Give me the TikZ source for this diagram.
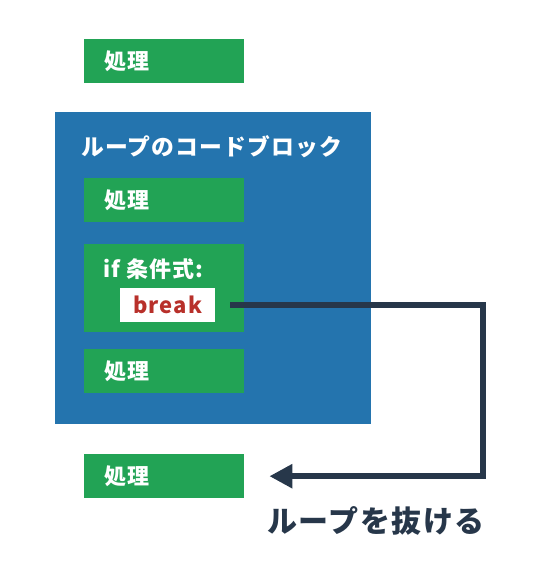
\documentclass[tikz,border=0pt]{standalone}
\usepackage{fontspec}
\setmainfont{Noto Sans CJK JP}[BoldFeatures={LetterSpace=5}]
\usepackage{tikz}
\usetikzlibrary{arrows.meta}
\definecolor{loopblue}{HTML}{2474AE}
\definecolor{stepgreen}{HTML}{22A355}
\definecolor{exitnavy}{HTML}{27374A}
\definecolor{breakred}{HTML}{B8302A}

\begin{document}
\begin{tikzpicture}[x=1pt,y=-1pt,font=\fontsize{22}{26}\selectfont\bfseries,
  stepbox/.style={fill=stepgreen,text=white,anchor=north west,inner xsep=20pt,inner ysep=0pt,
    text width=120pt,align=left,minimum height=44pt},
  exitline/.style={draw=exitnavy,line width=6.5pt,line join=miter,-{Triangle[length=23pt,width=23pt]}}]
\useasboundingbox (0,0) rectangle (550,580);
\coordinate (turn) at (483,0);
\node[fill=loopblue,anchor=north west,minimum width=316pt,minimum height=312pt,inner sep=0pt] (loop) at (55,112) {};
\node[anchor=west,text=white,inner sep=0pt,font=\fontsize{22.8}{26}\selectfont\bfseries] (title) at (81,147) {ループのコードブロック};
\node[stepbox] (before) at (84,39) {処理};
\node[stepbox] (step1) at (84,178) {処理};
\node[stepbox,minimum height=88pt] (ifblk) at (84,244) {};
\node[anchor=west,text=white,inner sep=0pt] (cond) at (103,269) {if 条件式:};
\node[fill=white,text=breakred,minimum width=95pt,minimum height=34pt,inner sep=0pt,
  font=\fontsize{22}{26}\selectfont\bfseries] (brk) at (167.5,305) {break};
\node[stepbox] (step2) at (84,349) {処理};
\node[stepbox] (after) at (84,454) {処理};
\draw[exitline] ([xshift=15pt]brk.east) -- (brk.east -| turn) |- ([xshift=25pt]after.east);
\node[text=exitnavy,font=\fontsize{30}{34}\selectfont\bfseries] (exitlbl) at (376,521) {ループを抜ける};
\end{tikzpicture}
\end{document}
